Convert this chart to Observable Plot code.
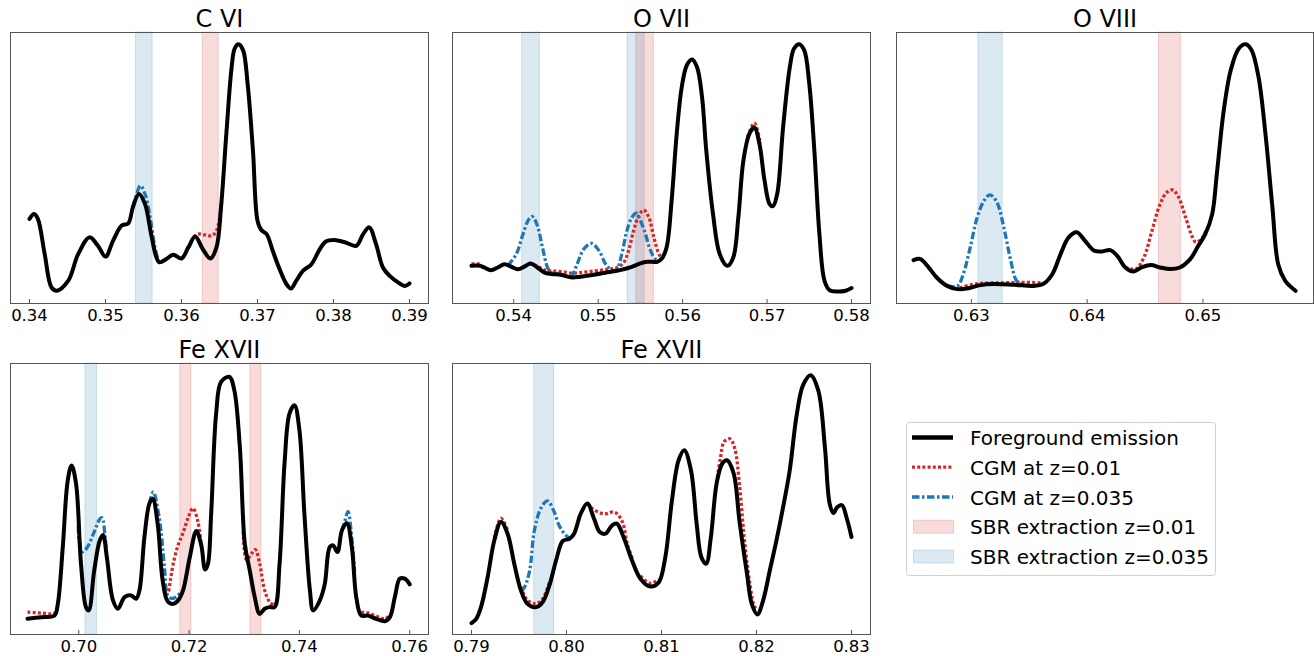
<!DOCTYPE html>
<html><head><meta charset="utf-8">
<script src="https://cdn.jsdelivr.net/npm/d3@7"></script>
<script src="https://cdn.jsdelivr.net/npm/@observablehq/plot@0.6"></script>
<style>
html,body{margin:0;padding:0;background:#fff;}
#chart{position:relative;width:1314px;height:656px;overflow:hidden;font-family:"DejaVu Sans",sans-serif;background:#fff;}
#chart svg{position:absolute;overflow:visible;}
</style></head><body><div id="chart"></div>
<script>
// ---------- DATA (energy in keV, intensity in arbitrary units) ----------
// C VI
const cviTicks = [0.34,0.35,0.36,0.37,0.38,0.39];
const cviForeground = [[0.3400,31.2],[0.3406,33.0],[0.3411,31.2],[0.3420,18.2],[0.3429,5.9],[0.3436,4.7],[0.3451,8.4],[0.3464,18.2],[0.3479,24.4],[0.3490,21.3],[0.3500,17.3],[0.3510,23.2],[0.3521,28.7],[0.3530,29.6],[0.3536,35.5],[0.3544,40.4],[0.3552,36.7],[0.3560,25.6],[0.3567,17.0],[0.3571,15.2],[0.3580,16.4],[0.3589,18.0],[0.3600,16.6],[0.3609,20.7],[0.3618,24.7],[0.3628,20.1],[0.3638,16.6],[0.3646,20.7],[0.3652,35.5],[0.3659,62.6],[0.3666,87.3],[0.3670,94.1],[0.3675,95.7],[0.3681,93.5],[0.3687,81.1],[0.3694,56.5],[0.3700,30.6],[0.3705,27.1],[0.3712,25.6],[0.3720,19.5],[0.3729,12.7],[0.3738,7.2],[0.3744,5.5],[0.3751,8.4],[0.3760,12.1],[0.3771,14.5],[0.3782,20.1],[0.3790,22.9],[0.3801,23.4],[0.3815,22.6],[0.3830,21.3],[0.3839,25.6],[0.3847,28.1],[0.3856,21.9],[0.3865,13.3],[0.3874,10.2],[0.3885,7.8],[0.3894,6.5],[0.3900,7.4]];
const cviCgm001 = [[[0.3616,24.5],[0.3622,25.6],[0.3631,25.3],[0.3640,25.0],[0.3646,26.9],[0.3651,33.0],[0.3653,38.0]]];
const cviCgm0035 = [[[0.3536,35.5],[0.3540,39.5],[0.3546,43.5],[0.3552,40.4],[0.3558,33.0],[0.3565,20.7],[0.3569,16.4]]];
const cviSbr001 = [[0.3628,0.3649]];
const cviSbr0035 = [[0.3540,0.3562]];

// O VII
const oviiTicks = [0.54,0.55,0.56,0.57,0.58];
const oviiForeground = [[0.5350,13.9],[0.5360,13.9],[0.5365,13.3],[0.5373,12.3],[0.5381,13.3],[0.5389,14.5],[0.5397,13.6],[0.5405,12.6],[0.5413,13.7],[0.5420,14.8],[0.5428,13.3],[0.5436,11.5],[0.5444,10.9],[0.5456,10.6],[0.5469,9.6],[0.5479,9.9],[0.5495,10.6],[0.5511,11.5],[0.5526,12.3],[0.5538,13.3],[0.5550,14.8],[0.5558,15.4],[0.5570,15.4],[0.5575,16.4],[0.5581,20.7],[0.5587,38.0],[0.5593,62.6],[0.5599,79.9],[0.5605,87.9],[0.5611,90.0],[0.5617,87.3],[0.5623,76.2],[0.5628,56.5],[0.5636,33.0],[0.5644,18.2],[0.5653,13.9],[0.5660,17.0],[0.5666,31.8],[0.5672,52.8],[0.5679,62.6],[0.5685,64.9],[0.5691,58.9],[0.5697,45.4],[0.5703,36.7],[0.5707,35.9],[0.5712,40.4],[0.5719,65.1],[0.5727,87.3],[0.5732,94.1],[0.5738,95.7],[0.5744,93.5],[0.5750,81.1],[0.5756,56.5],[0.5762,25.6],[0.5768,8.4],[0.5774,4.9],[0.5783,4.4],[0.5793,4.7],[0.5800,5.7]];
const oviiCgm001 = [[[0.5350,14.6],[0.5360,14.6]],[[0.5418,14.8],[0.5428,13.8],[0.5436,12.4],[0.5444,12.0],[0.5456,11.8],[0.5469,11.2],[0.5479,11.4],[0.5495,12.0],[0.5511,12.6],[0.5522,13.2],[0.5530,15.0],[0.5536,19.5],[0.5542,26.9],[0.5548,32.4],[0.5554,34.5],[0.5560,31.8],[0.5566,24.4],[0.5572,18.2],[0.5577,16.4]],[[0.5677,61.5],[0.5685,66.6],[0.5692,59.0]]];
const oviiCgm0035 = [[[0.5393,14.0],[0.5403,18.2],[0.5411,25.6],[0.5417,30.6],[0.5422,32.1],[0.5428,28.7],[0.5434,20.7],[0.5440,13.3],[0.5444,11.5],[0.5456,10.6],[0.5468,10.2],[0.5475,14.5],[0.5483,20.1],[0.5492,22.2],[0.5501,19.5],[0.5509,14.5],[0.5517,12.1],[0.5522,12.7],[0.5528,18.2],[0.5534,26.9],[0.5540,31.8],[0.5545,33.3],[0.5550,30.6],[0.5556,25.6],[0.5562,19.5],[0.5568,16.4],[0.5572,15.9]]];
const oviiSbr001 = [[0.5545,0.5566]];
const oviiSbr0035 = [[0.5410,0.5431],[0.5535,0.5555]];

// O VIII
const oviiiTicks = [0.63,0.64,0.65];
const oviiiForeground = [[0.6250,16.0],[0.6256,16.4],[0.6262,13.9],[0.6270,9.6],[0.6279,6.5],[0.6288,5.3],[0.6296,5.5],[0.6308,6.8],[0.6319,7.2],[0.6337,6.9],[0.6354,6.5],[0.6362,7.2],[0.6370,10.9],[0.6377,18.2],[0.6384,24.4],[0.6391,26.3],[0.6398,23.2],[0.6406,19.5],[0.6413,19.2],[0.6420,19.7],[0.6426,17.6],[0.6433,13.3],[0.6440,11.8],[0.6447,13.3],[0.6455,14.2],[0.6463,13.3],[0.6472,12.7],[0.6480,13.3],[0.6489,16.4],[0.6496,21.3],[0.6502,25.6],[0.6508,33.0],[0.6512,47.8],[0.6518,71.3],[0.6524,86.1],[0.6531,94.1],[0.6537,95.7],[0.6542,93.5],[0.6548,83.6],[0.6554,62.6],[0.6560,35.5],[0.6565,14.5],[0.6571,8.4],[0.6575,6.5],[0.6580,4.7]];
const oviiiCgm001 = [[[0.6290,5.8],[0.6305,7.3],[0.6325,7.6],[0.6345,7.8],[0.6362,7.6]],[[0.6433,13.3],[0.6442,12.7],[0.6449,17.0],[0.6456,26.9],[0.6463,36.7],[0.6469,41.1],[0.6474,41.9],[0.6479,39.2],[0.6485,31.8],[0.6491,24.4],[0.6494,22.6],[0.6499,24.0],[0.6503,27.0]]];
const oviiiCgm0035 = [[[0.6279,6.5],[0.6288,6.5],[0.6293,10.9],[0.6299,20.7],[0.6305,31.8],[0.6311,38.0],[0.6316,40.1],[0.6322,37.4],[0.6328,28.1],[0.6334,15.8],[0.6339,8.4],[0.6344,7.2]]];
const oviiiSbr001 = [[0.6462,0.6481]];
const oviiiSbr0035 = [[0.6306,0.6327]];

// Fe XVII (first window)
const fexviiATicks = [0.70,0.72,0.74,0.76];
const fexviiAForeground = [[0.6907,5.8],[0.6932,6.4],[0.6956,7.0],[0.6962,11.3],[0.6971,32.3],[0.6980,56.9],[0.6987,62.4],[0.6995,55.7],[0.7004,26.1],[0.7013,10.1],[0.7018,8.9],[0.7028,23.6],[0.7038,34.7],[0.7044,36.7],[0.7051,28.3],[0.7062,12.6],[0.7071,9.5],[0.7083,13.8],[0.7095,14.4],[0.7104,13.2],[0.7110,16.3],[0.7119,36.0],[0.7128,48.3],[0.7134,50.1],[0.7143,40.9],[0.7152,20.0],[0.7161,12.3],[0.7171,11.3],[0.7180,12.6],[0.7189,16.3],[0.7201,28.3],[0.7213,38.2],[0.7222,33.0],[0.7229,24.0],[0.7234,25.9],[0.7240,44.6],[0.7249,81.5],[0.7258,93.2],[0.7273,95.1],[0.7282,90.1],[0.7292,69.2],[0.7301,33.5],[0.7310,23.6],[0.7319,13.8],[0.7328,7.6],[0.7337,9.5],[0.7346,10.1],[0.7355,10.1],[0.7364,26.1],[0.7373,63.1],[0.7382,81.5],[0.7391,84.6],[0.7400,75.4],[0.7409,44.6],[0.7419,16.3],[0.7425,8.9],[0.7437,12.6],[0.7446,18.7],[0.7455,32.3],[0.7461,32.9],[0.7469,30.4],[0.7477,38.4],[0.7486,41.1],[0.7495,32.3],[0.7503,13.8],[0.7512,7.0],[0.7524,7.0],[0.7539,5.8],[0.7555,4.9],[0.7564,6.4],[0.7573,13.8],[0.7582,20.6],[0.7591,20.6],[0.7600,18.5]];
const fexviiACgm001 = [[[0.6907,8.3],[0.6932,7.9],[0.6956,7.9],[0.6962,11.0]],[[0.7155,16.0],[0.7161,15.5],[0.7166,20.0],[0.7171,25.9],[0.7180,33.0],[0.7189,37.5],[0.7198,42.9],[0.7207,46.6],[0.7216,41.6],[0.7222,33.0]],[[0.7298,38.0],[0.7304,27.5],[0.7313,29.8],[0.7320,31.3],[0.7328,26.1],[0.7337,16.3],[0.7346,12.0],[0.7355,10.6]],[[0.7512,8.2],[0.7524,8.0],[0.7539,6.8],[0.7555,5.8],[0.7564,7.2]]];
const fexviiACgm0035 = [[[0.6999,40.0],[0.7001,34.2],[0.7007,30.5],[0.7016,32.4],[0.7028,37.9],[0.7038,42.6],[0.7042,43.1],[0.7048,35.5],[0.7051,28.1]],[[0.7128,48.3],[0.7135,52.6],[0.7146,42.9],[0.7155,25.6],[0.7161,14.5],[0.7168,13.3],[0.7177,13.9],[0.7186,15.8]],[[0.7477,38.4],[0.7482,41.6],[0.7488,45.3],[0.7495,35.5],[0.7500,23.2]]];
const fexviiASbr001 = [[0.7184,0.7204],[0.7311,0.7331]];
const fexviiASbr0035 = [[0.7012,0.7033]];

// Fe XVII (second window)
const fexviiBTicks = [0.79,0.80,0.81,0.82,0.83];
const fexviiBForeground = [[0.7900,4.2],[0.7905,5.8],[0.7910,10.1],[0.7917,21.2],[0.7924,34.7],[0.7931,41.5],[0.7938,37.2],[0.7945,26.1],[0.7952,16.3],[0.7959,11.3],[0.7968,10.1],[0.7975,12.0],[0.7982,18.1],[0.7989,27.3],[0.7996,34.5],[0.8003,35.3],[0.8008,37.2],[0.8015,44.6],[0.8022,48.3],[0.8029,42.7],[0.8035,37.8],[0.8041,37.2],[0.8048,40.3],[0.8053,40.9],[0.8060,36.0],[0.8069,27.3],[0.8078,20.5],[0.8088,17.7],[0.8097,19.2],[0.8104,28.5],[0.8111,49.5],[0.8118,64.3],[0.8124,68.0],[0.8131,60.6],[0.8137,40.9],[0.8142,28.5],[0.8147,26.1],[0.8152,36.0],[0.8158,55.7],[0.8164,63.1],[0.8169,64.3],[0.8176,59.4],[0.8182,42.1],[0.8190,22.4],[0.8195,11.3],[0.8201,7.4],[0.8207,12.6],[0.8214,23.6],[0.8221,34.7],[0.8228,47.0],[0.8235,60.6],[0.8242,80.3],[0.8249,92.0],[0.8257,95.7],[0.8265,90.1],[0.8272,69.2],[0.8277,48.3],[0.8281,44.8],[0.8285,47.0],[0.8290,47.7],[0.8295,42.9],[0.8300,36.0]];
const fexviiBCgm001 = [[[0.7924,35.6],[0.7931,42.9],[0.7938,38.4]],[[0.7952,17.5],[0.7959,12.6],[0.7968,11.4],[0.7975,13.2],[0.7982,19.2]],[[0.8022,48.3],[0.8027,46.5],[0.8036,44.8],[0.8043,44.6],[0.8048,45.2],[0.8053,44.6],[0.8059,41.4],[0.8064,33.5],[0.8070,27.3]],[[0.8078,21.6],[0.8088,18.9],[0.8097,20.3]],[[0.8158,56.0],[0.8162,65.0],[0.8166,71.2],[0.8172,72.2],[0.8177,68.8],[0.8182,55.7],[0.8187,36.0],[0.8193,18.7],[0.8198,10.3],[0.8202,9.0]]];
const fexviiBCgm0035 = [[[0.7952,16.3],[0.7955,17.0],[0.7961,23.2],[0.7966,38.0],[0.7973,46.6],[0.7980,49.3],[0.7987,45.3],[0.7992,40.4],[0.7999,36.7],[0.8005,35.2]]];
const fexviiBSbr0035 = [[0.7966,0.7987]];
const fexviiBSbr001 = [];

const legendLabels = ["Foreground emission","CGM at z=0.01","CGM at z=0.035","SBR extraction z=0.01","SBR extraction z=0.035"];

// ---------- DRAWING ----------
const RED = "#d62728", BLUE = "#1f77b4";
const DOT = "3,2.2", DASHDOT = "7.5,2.5,2.5,2.5";
const container = document.getElementById("chart");

function segRows(segs) {
  return segs.flatMap((s, i) => s.map(([x, y]) => ({x, y, seg: i})));
}

function panel(cfg) {
  const {left, top, w, h, domain, ticks, title, fg, red, blue, bandRed, bandBlue} = cfg;
  const mL = 20, mR = 20, mT = 40, mB = 30;
  const plot = Plot.plot({
    width: w + mL + mR, height: h + mT + mB,
    marginLeft: mL, marginRight: mR, marginTop: mT, marginBottom: mB,
    x: {domain, ticks, tickFormat: d3.format(".2f"), tickSize: 0, tickPadding: 6, label: null},
    y: {domain: [0, 100], axis: null},
    style: {fontFamily: "DejaVu Sans", fontSize: "16.5px", color: "#000", background: "transparent", overflow: "visible"},
    marks: [
      Plot.rect(bandRed, {x1: d => d[0], x2: d => d[1], fill: RED, fillOpacity: 0.17, stroke: RED, strokeOpacity: 0.18}),
      Plot.rect(bandBlue, {x1: d => d[0], x2: d => d[1], fill: BLUE, fillOpacity: 0.16, stroke: BLUE, strokeOpacity: 0.18}),
      Plot.line(segRows(red), {x: "x", y: "y", z: "seg", stroke: RED, strokeWidth: 3.3, strokeDasharray: DOT, strokeLinecap: "butt", curve: "catmull-rom"}),
      Plot.line(segRows(blue), {x: "x", y: "y", z: "seg", stroke: BLUE, strokeWidth: 3.3, strokeDasharray: DASHDOT, strokeLinecap: "butt", curve: "catmull-rom"}),
      Plot.line(fg, {x: d => d[0], y: d => d[1], stroke: "#000", strokeWidth: 4, curve: "catmull-rom"}),
      Plot.tickX(ticks, {x: d => d, insetTop: h - 4, stroke: "#555"}),
      Plot.frame({stroke: "#555"}),
      Plot.text([title], {text: d => d, frameAnchor: "top", dy: -6, lineAnchor: "bottom", fontSize: 24, fill: "#000"})
    ]
  });
  plot.style.left = (left - mL) + "px";
  plot.style.top = (top - mT) + "px";
  container.append(plot);
}

panel({left: 9.5, top: 32, w: 418, h: 271, domain: [0.3375, 0.3925], ticks: cviTicks, title: "C VI",
  fg: cviForeground, red: cviCgm001, blue: cviCgm0035, bandRed: cviSbr001, bandBlue: cviSbr0035});
panel({left: 452, top: 32, w: 418, h: 271, domain: [0.53275, 0.58225], ticks: oviiTicks, title: "O VII",
  fg: oviiForeground, red: oviiCgm001, blue: oviiCgm0035, bandRed: oviiSbr001, bandBlue: oviiSbr0035});
panel({left: 896, top: 32, w: 417, h: 271, domain: [0.62353, 0.65955], ticks: oviiiTicks, title: "O VIII",
  fg: oviiiForeground, red: oviiiCgm001, blue: oviiiCgm0035, bandRed: oviiiSbr001, bandBlue: oviiiSbr0035});
panel({left: 9.5, top: 363, w: 418, h: 271, domain: [0.68762, 0.7634], ticks: fexviiATicks, title: "Fe XVII",
  fg: fexviiAForeground, red: fexviiACgm001, blue: fexviiACgm0035, bandRed: fexviiASbr001, bandBlue: fexviiASbr0035});
panel({left: 452, top: 363, w: 418, h: 271, domain: [0.788, 0.832], ticks: fexviiBTicks, title: "Fe XVII",
  fg: fexviiBForeground, red: fexviiBCgm001, blue: fexviiBCgm0035, bandRed: fexviiBSbr001, bandBlue: fexviiBSbr0035});

// ---------- LEGEND ----------
const leg = d3.create("svg").attr("width", 1314).attr("height", 656)
  .style("left", "0px").style("top", "0px").style("font-family", "DejaVu Sans");
leg.append("rect").attr("x", 906.5).attr("y", 422.5).attr("width", 309).attr("height", 153).attr("rx", 3)
  .attr("fill", "#fff").attr("stroke", "#d0d0d0").attr("stroke-width", 1);
const rowY = [437.5, 467.2, 497, 526.7, 556.5];
leg.append("line").attr("x1", 912).attr("x2", 953).attr("y1", rowY[0]).attr("y2", rowY[0]).attr("stroke", "#000").attr("stroke-width", 4.5);
leg.append("line").attr("x1", 912).attr("x2", 953).attr("y1", rowY[1]).attr("y2", rowY[1]).attr("stroke", RED).attr("stroke-width", 3.3).attr("stroke-dasharray", DOT);
leg.append("line").attr("x1", 912).attr("x2", 953).attr("y1", rowY[2]).attr("y2", rowY[2]).attr("stroke", BLUE).attr("stroke-width", 3.3).attr("stroke-dasharray", DASHDOT);
leg.append("rect").attr("x", 913.5).attr("y", rowY[3] - 6.5).attr("width", 40).attr("height", 13)
  .attr("fill", RED).attr("fill-opacity", 0.17).attr("stroke", RED).attr("stroke-opacity", 0.18);
leg.append("rect").attr("x", 913.5).attr("y", rowY[4] - 6.5).attr("width", 40).attr("height", 13)
  .attr("fill", BLUE).attr("fill-opacity", 0.16).attr("stroke", BLUE).attr("stroke-opacity", 0.18);
leg.selectAll("text.lab").data(legendLabels).join("text").attr("class", "lab")
  .attr("x", 970).attr("y", (d, i) => rowY[i] + 7.5).attr("font-size", 20).attr("fill", "#000").text(d => d);
container.append(leg.node());
</script></body></html>
